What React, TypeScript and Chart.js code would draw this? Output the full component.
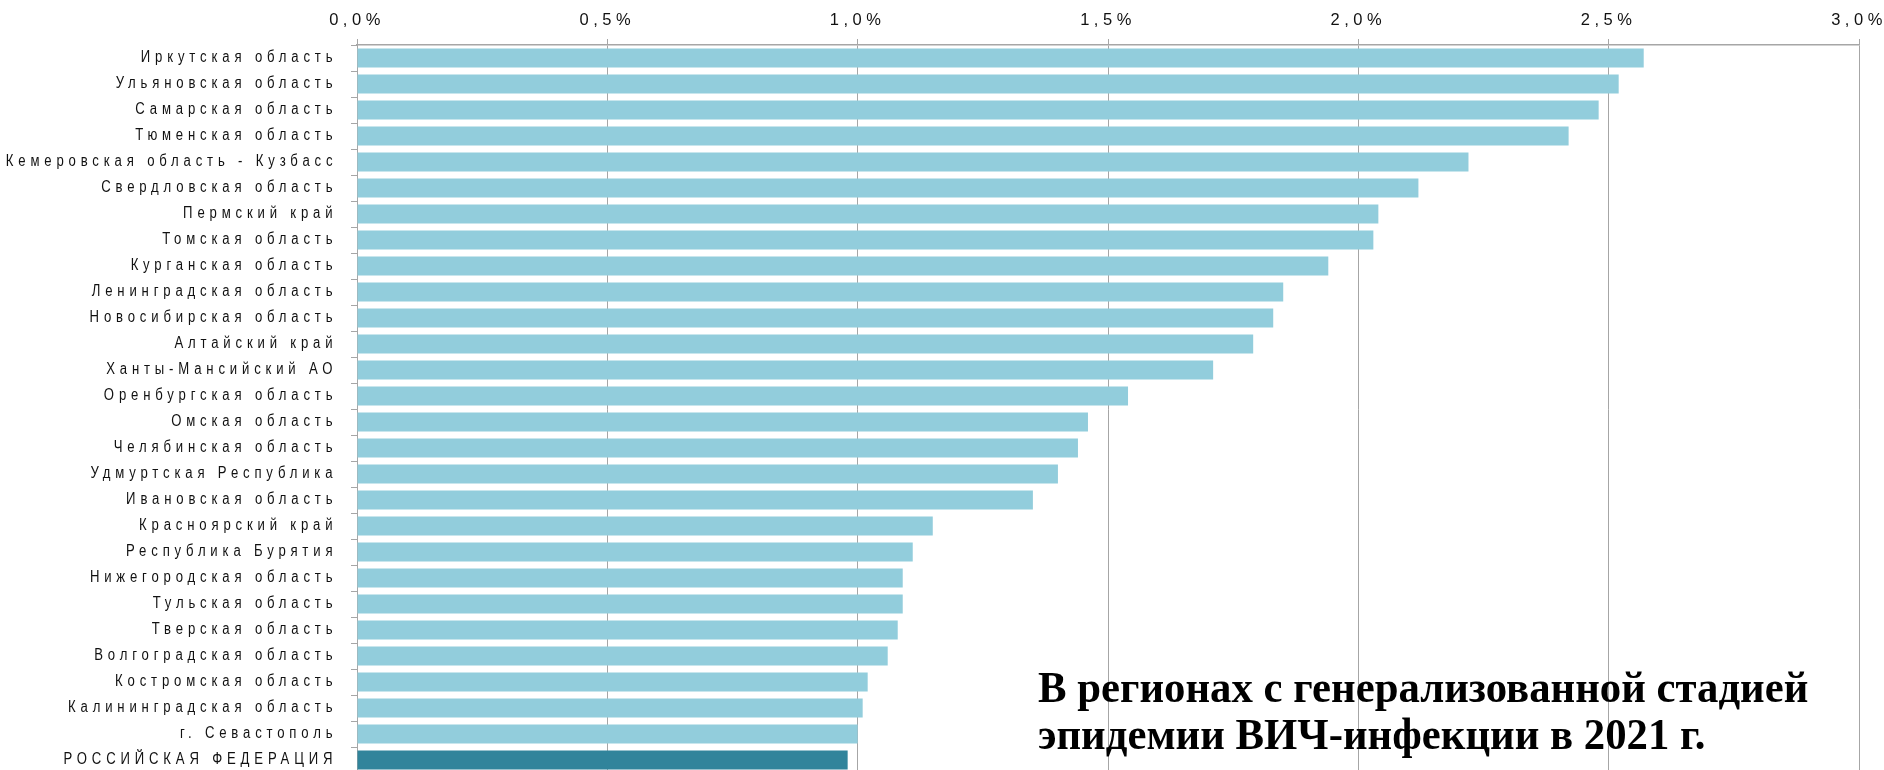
import React, { useEffect, useRef } from "react";
import { Chart, registerables } from "chart.js";

Chart.register(...registerables);

const regions = [
  "Иркутская область",
  "Ульяновская область",
  "Самарская область",
  "Тюменская область",
  "Кемеровская область - Кузбасс",
  "Свердловская область",
  "Пермский край",
  "Томская область",
  "Курганская область",
  "Ленинградская область",
  "Новосибирская область",
  "Алтайский край",
  "Ханты-Мансийский АО",
  "Оренбургская область",
  "Омская область",
  "Челябинская область",
  "Удмуртская Республика",
  "Ивановская область",
  "Красноярский край",
  "Республика Бурятия",
  "Нижегородская область",
  "Тульская область",
  "Тверская область",
  "Волгоградская область",
  "Костромская область",
  "Калининградская область",
  "г. Севастополь",
  "РОССИЙСКАЯ ФЕДЕРАЦИЯ",
];

// share of population living with HIV, %
const hivShare = [
  2.57, 2.52, 2.48, 2.42, 2.22, 2.12, 2.04, 2.03, 1.94, 1.85, 1.83, 1.79, 1.71, 1.54,
  1.46, 1.44, 1.4, 1.35, 1.15, 1.11, 1.09, 1.09, 1.08, 1.06, 1.02, 1.01, 1.0, 0.98,
];

const axisMin = 0;
const axisMax = 3;
const axisStep = 0.5;

const titleLines = [
  "В регионах с генерализованной стадией",
  "эпидемии ВИЧ-инфекции в 2021 г.",
];

const BAR_COLOR = "#92CDDC";
const TOTAL_COLOR = "#31849B";
const GRID_COLOR = "#A6A6A6";
const TEXT_COLOR = "#111111";
const LABEL_FONT = "'Liberation Sans', Arial, sans-serif";
const X_LS = 4.5;
const Y_LS = 5.9;
const Y_CONDENSE = 0.82;

const spacingPlugin = {
  id: "letterSpacingTicks",
  afterLayout(chart: any) {
    const patch = (scale: any, ls: number, shift: number, condense: number, pivotFn: () => number) => {
      if (!scale || scale.__lsPatched) return;
      const orig = scale.drawLabels.bind(scale);
      scale._computeLabelArea = () => undefined;
      scale.drawLabels = (area: any) => {
        const ctx = chart.ctx;
        ctx.save();
        (ctx as any).letterSpacing = ls + "px";
        ctx.translate(shift, 0);
        if (condense !== 1) {
          const p = pivotFn();
          ctx.translate(p, 0);
          ctx.scale(condense, 1);
          ctx.translate(-p, 0);
        }
        orig(area);
        ctx.restore();
      };
      scale.__lsPatched = true;
    };
    const y = chart.scales.y;
    patch(chart.scales.x, X_LS, 0, 1, () => 0);
    patch(y, Y_LS, 0, Y_CONDENSE, () => y.right);
  },
};

export default function App() {
  const canvasRef = useRef<HTMLCanvasElement | null>(null);

  useEffect(() => {
    if (!canvasRef.current) return;
    const last = regions.length - 1;
    const chart = new Chart(canvasRef.current, {
      type: "bar",
      data: {
        labels: regions,
        datasets: [
          {
            data: hivShare,
            backgroundColor: regions.map((_, i) => (i === last ? TOTAL_COLOR : BAR_COLOR)),
            borderWidth: 0,
            barPercentage: 0.73,
            categoryPercentage: 1,
          },
        ],
      },
      options: {
        indexAxis: "y",
        animation: false,
        responsive: false,
        maintainAspectRatio: false,
        devicePixelRatio: 1,
        layout: { padding: { top: 11, right: 25, bottom: 7, left: 0 } },
        plugins: {
          legend: { display: false },
          tooltip: { enabled: false },
          title: { display: false },
        },
        scales: {
          x: {
            position: "top",
            min: axisMin,
            max: axisMax,
            ticks: {
              stepSize: axisStep,
              padding: 9,
              color: TEXT_COLOR,
              font: { family: LABEL_FONT, size: 16.5 },
              maxRotation: 0,
              callback: (v: any) => Number(v).toFixed(1).replace(".", ",") + "%",
            },
            grid: { color: GRID_COLOR, lineWidth: 1, tickLength: 6, drawTicks: true },
            border: { display: true, color: GRID_COLOR, width: 1.5 },
            afterFit: (s: any) => {
              s.height = 34;
              s.paddingLeft = 0;
              s.paddingRight = 0;
            },
          },
          y: {
            ticks: {
              autoSkip: false,
              padding: 18,
              color: TEXT_COLOR,
              font: { family: LABEL_FONT, size: 16 },
            },
            grid: {
              drawOnChartArea: false,
              drawTicks: true,
              tickLength: 6,
              color: GRID_COLOR,
              offset: true,
            },
            border: { display: true, color: GRID_COLOR, width: 1 },
            afterFit: (s: any) => {
              s.width = 357;
              s.paddingTop = 0;
              s.paddingBottom = 0;
            },
          },
        },
      },
      plugins: [spacingPlugin],
    });
    chart.draw();
    return () => chart.destroy();
  }, []);

  return (
    <div
      style={{
        position: "absolute",
        left: 0,
        top: 0,
        width: 1884,
        height: 770,
        overflow: "hidden",
        background: "#fff",
      }}
    >
      <canvas ref={canvasRef} width={1884} height={780} style={{ display: "block" }} />
      <div
        style={{
          position: "absolute",
          left: 1038,
          top: 664,
          fontFamily: "'Liberation Serif', 'Times New Roman', serif",
          fontWeight: "bold",
          fontSize: 44,
          lineHeight: "47px",
          color: "#000",
          whiteSpace: "nowrap",
          transform: "scaleX(0.972)",
          transformOrigin: "left top",
        }}
      >
        {titleLines.map((t) => (
          <div key={t}>{t}</div>
        ))}
      </div>
    </div>
  );
}
